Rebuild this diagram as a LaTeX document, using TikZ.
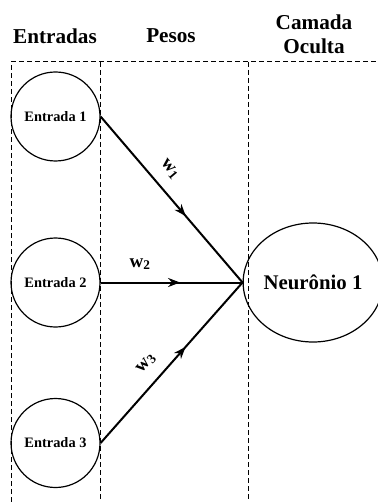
\documentclass[tikz,border=0pt]{standalone}
\usepackage{fontspec}
\setmainfont{Liberation Serif}
\usetikzlibrary{arrows.meta, decorations.markings, shapes.geometric}

\begin{document}
\begin{tikzpicture}[x=0.5pt, y=-0.5pt,
    entrada/.style={draw, circle, line width=0.6pt, minimum size=44.5pt, inner sep=0pt, font=\fontsize{7.2}{8}\selectfont\bfseries},
    neuronio/.style={draw, ellipse, line width=0.6pt, minimum width=65pt, minimum height=59.5pt, inner sep=0pt, font=\fontsize{10.4}{12}\selectfont\bfseries},
    titulo/.style={font=\fontsize{10.6}{12}\selectfont\bfseries, align=center},
    divisa/.style={line width=0.5pt, dash pattern=on 2.5pt off 1.5pt},
    peso/.style={line width=1pt, postaction={decorate}, decoration={markings, mark=at position #1 with {\arrow{Stealth[length=6pt, width=4.5pt]}}}},
    rotulo/.style={font=\fontsize{9.5}{11}\selectfont\bfseries, sloped, above=2.5pt}]
  \useasboundingbox (0,0) rectangle (378,502);
  % colunas
  \draw[divisa] (11,502) -- (11,62) -- (378,62);
  \draw[divisa] (100,62) -- (100,502);
  \draw[divisa] (248,62) -- (248,502);
  \node[titulo] (tEntradas) at (55,36) {Entradas};
  \node[titulo] (tPesos) at (171,36) {Pesos};
  \node[titulo] (tCamada) at (314,34) {Camada\\Oculta};
  % entradas e neuronio
  \node[entrada] (e1) at (55.5,116.5) {Entrada 1};
  \node[entrada] (e2) at (55.5,282.5) {Entrada 2};
  \node[entrada] (e3) at (55.5,443) {Entrada 3};
  \node[neuronio] (n1) at (313,282.5) {Neurônio 1};
  % pesos
  \draw[peso=0.6] (e1.east) -- node[rotulo, pos=0.39] (w1) {w\textsubscript{1}} (n1.west);
  \draw[peso=0.56] (e2.east) -- node[rotulo, pos=0.28] (w2) {w\textsubscript{2}} (n1.west);
  \draw[peso=0.6] (e3.east) -- node[rotulo, pos=0.42] (w3) {w\textsubscript{3}} (n1.west);
\end{tikzpicture}
\end{document}
